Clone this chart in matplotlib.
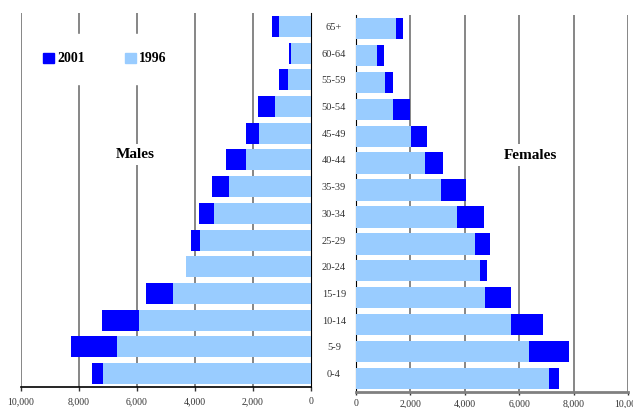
import matplotlib
matplotlib.use('Agg')
import matplotlib.pyplot as plt
from matplotlib.patches import Patch
from matplotlib.ticker import FuncFormatter

plt.rcParams['font.family'] = ['Liberation Serif', 'DejaVu Serif']

ages = ['0-4', '5-9', '10-14', '15-19', '20-24', '25-29', '30-34',
        '35-39', '40-44', '45-49', '50-54', '55-59', '60-64', '65+']
males_1996 = [7170, 6690, 5930, 4760, 4320, 3830, 3350, 2830, 2240, 1790, 1240, 790, 690, 1110]
males_2001 = [7550, 8280, 7210, 5690, 4200, 4140, 3860, 3410, 2930, 2240, 1830, 1100, 760, 1340]
females_1996 = [7100, 6370, 5700, 4750, 4560, 4380, 3720, 3130, 2540, 2020, 1360, 1070, 770, 1470]
females_2001 = [7470, 7840, 6880, 5700, 4820, 4930, 4710, 4040, 3200, 2610, 1990, 1360, 1030, 1720]
ticks = [0, 2000, 4000, 6000, 8000, 10000]

dark = '#0000FF'
light = '#99CCFF'
W, H = 633, 408

fig = plt.figure(figsize=(W / 100, H / 100), dpi=100)
axl = fig.add_axes([21 / W, 1 - 387 / H, 290 / W, 374 / H])
axr = fig.add_axes([356 / W, 1 - 392 / H, 272 / W, 377 / H])

fmt = FuncFormatter(lambda v, p: '{:,.0f}'.format(v))
y = list(range(len(ages)))

for ax, d01, d96 in [(axl, males_2001, males_1996), (axr, females_2001, females_1996)]:
    ax.barh(y, d01, height=0.79, color=dark, zorder=3)
    ax.barh(y, d96, height=0.79, color=light, zorder=4)
    ax.set_ylim(-0.5, len(ages) - 0.5)
    ax.set_xticks(ticks)
    ax.xaxis.set_major_formatter(fmt)
    ax.set_yticks([])
    for t in ticks[1:]:
        ax.axvline(t, color='#666666', lw=1.1, zorder=1)
    ax.spines['top'].set_visible(False)

axl.tick_params(axis='x', labelsize=7, length=3, width=1, pad=4.5, colors='#333333')
axr.tick_params(axis='x', labelsize=7, length=2.5, width=1, pad=2.5, colors='#333333')

axl.set_xlim(10000, 0)
axl.spines['left'].set_visible(False)
axl.spines['right'].set_color('black')
axl.spines['bottom'].set_color('black')
axl.spines['bottom'].set_linewidth(1.2)

axr.set_xlim(0, 10000)
axr.spines['right'].set_visible(False)
axr.spines['left'].set_color('black')
axr.spines['bottom'].set_color('#808080')
axr.spines['bottom'].set_linewidth(2)

# age labels in the middle
axl.yaxis.tick_right()
axl.set_yticks(y)
axl.set_yticklabels(ages, fontsize=7.5, ha='center', color='#333333')
axl.tick_params(axis='y', length=0, pad=16.5)

handles = [Patch(color=dark, label='2001'), Patch(color=light, label='1996')]
leg = axl.legend(handles=handles, ncol=2, loc='center',
                 bbox_to_anchor=(105 / W, 1 - 59 / H), bbox_transform=fig.transFigure,
                 prop={'weight': 'bold', 'size': 10}, handlelength=0.75, handleheight=0.75,
                 handletextpad=0.25, columnspacing=2.9, borderpad=1.3,
                 frameon=True, fancybox=False, edgecolor='white', facecolor='white', framealpha=1)
leg.set_zorder(5)

axl.text(6050, 8.19, 'Males', ha='center', va='center', fontsize=11, fontweight='bold',
         bbox=dict(facecolor='white', edgecolor='none', pad=3), zorder=5)
axr.text(6400, 8.3, 'Females', ha='center', va='center', fontsize=11, fontweight='bold',
         bbox=dict(facecolor='white', edgecolor='none', pad=3), zorder=5)

fig.savefig('out.png', dpi=100)
